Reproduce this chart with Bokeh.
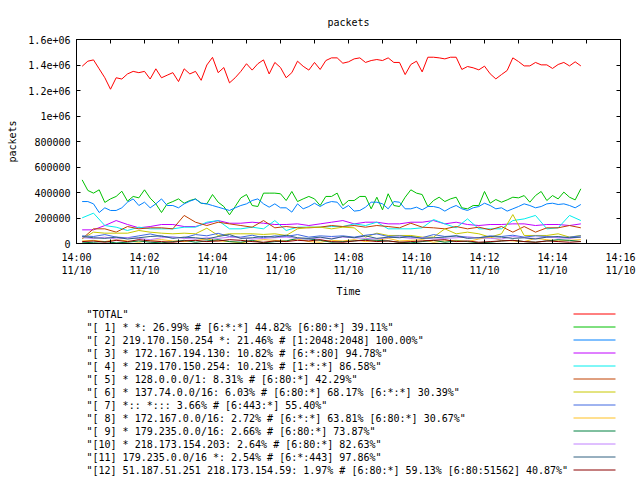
import numpy as np
import pandas as pd
from bokeh.plotting import figure
from bokeh.models import (Range1d, FixedTicker, DatetimeTickFormatter, DatetimeAxis,
                          LinearAxis)
from bokeh.layouts import column
from bokeh.embed import file_html
from bokeh.resources import INLINE
from bokeh.core.properties import value

FONT = "DejaVu Sans Mono"

# ---------------- data ----------------
x_start = "2010-11-10 14:00:00"
x_end = "2010-11-10 14:16:00"
first_sample = "2010-11-10 14:00:10"

x_major_ticks = ["2010-11-10 14:00", "2010-11-10 14:02", "2010-11-10 14:04", "2010-11-10 14:06",
                 "2010-11-10 14:08", "2010-11-10 14:10", "2010-11-10 14:12", "2010-11-10 14:14",
                 "2010-11-10 14:16"]
x_minor_ticks = ["2010-11-10 14:01", "2010-11-10 14:03", "2010-11-10 14:05", "2010-11-10 14:07",
                 "2010-11-10 14:09", "2010-11-10 14:11", "2010-11-10 14:13", "2010-11-10 14:15"]

y_tick_values = [0, 200000, 400000, 600000, 800000, 1000000, 1200000, 1400000, 1600000]
y_tick_labels = ["0", "200000", "400000", "600000", "800000", "1e+06", "1.2e+06", "1.4e+06", "1.6e+06"]

# sampled every 10 s (values in thousands of packets)
total_k = [1390, 1430, 1440, 1370, 1300, 1210, 1300, 1290, 1330, 1350,
           1340, 1350, 1290, 1370, 1300, 1320, 1340, 1270, 1370, 1330,
           1350, 1280, 1400, 1460, 1340, 1380, 1260, 1300, 1350, 1410,
           1360, 1410, 1440, 1330, 1420, 1380, 1300, 1340, 1430, 1390,
           1360, 1420, 1365,
           1435, 1456, 1456, 1414, 1425, 1448, 1456, 1420, 1435, 1443,
           1435, 1456, 1420, 1420, 1325, 1404, 1430, 1346, 1461, 1461,
           1456, 1448, 1461, 1461, 1365, 1388, 1378, 1362, 1391, 1331,
           1291, 1325, 1357, 1456, 1427, 1393, 1393, 1420, 1401, 1401,
           1373, 1404, 1420, 1393, 1425, 1393]
s1_k = [499, 416, 395, 421, 322, 350, 369, 410, 332, 369,
        358, 421, 356, 311, 243, 311, 329, 350, 316, 337,
        350, 316, 311, 384, 324, 290, 225, 290, 358, 384,
        298, 290, 395, 395, 395, 390, 337, 408, 329, 350,
        369, 350, 298,
        369, 369, 395, 298, 337, 337, 369, 369, 272, 363,
        264, 390, 298, 290, 363, 421, 395, 384, 290, 337,
        363, 329, 350, 363, 280, 272, 298, 298, 408, 316,
        345, 324, 342, 363, 358, 376, 324, 376, 408, 337,
        376, 350, 403, 363, 342, 429]
s2_k = [329, 329, 311, 243, 280, 259, 259, 280, 324, 350,
        298, 324, 280, 311, 350, 298, 298, 280, 311, 332,
        348, 316, 311, 298, 285, 272, 259, 280, 298, 311,
        337, 350, 311, 285, 311, 280, 280, 246, 311, 272,
        290, 316, 290,
        316, 329, 324, 272, 298, 254, 259, 285, 324, 324,
        311, 272, 329, 324, 272, 272, 285, 264, 290, 290,
        280, 254, 280, 298, 272, 259, 280, 290, 316, 298,
        272, 280, 254, 272, 290, 311, 298, 280, 290, 311,
        316, 306, 311, 298, 280, 306]

# sampled every 20 s (values in thousands of packets)
s3_k = [107, 107, 141, 180, 149, 123, 133, 149, 149, 133,
        133, 159, 180, 159, 159, 167, 159, 149, 149, 154,
        141, 154, 167, 180, 154, 167, 167, 154, 154, 167,
        167, 180, 154, 167, 149, 141, 149, 149, 154, 154,
        141, 149, 149, 141, 154]
s4_k = [201, 238, 141, 128, 102, 128, 115, 115, 115, 128,
        128, 167, 180, 115, 115, 128, 115, 180, 102, 128,
        128, 128, 133, 133, 154, 141, 167, 115, 115, 115,
        123, 188, 154, 123, 193, 115, 115, 115, 180, 193,
        220, 115, 123, 220, 180]
s5_k = [37, 115, 115, 89, 133, 115, 123, 123, 115, 220,
        167, 141, 167, 154, 141, 128, 180, 123, 133, 123,
        123, 128, 141, 133, 141, 128, 141, 133, 123, 159,
        128, 123, 115, 133, 115, 128, 107, 133, 89, 133,
        89, 123, 123, 141, 123]
s6_k = [37, 89, 81, 81, 81, 102, 89, 81, 76, 81,
        76, 120, 63, 76, 76, 76, 71, 76, 63, 115,
        128, 128, 115, 128, 123, 50, 81, 63, 63, 63,
        50, 50, 115, 76, 89, 76, 50, 76, 227, 63,
        63, 63, 76, 50, 63]
s7_k = [60, 55, 70, 50, 45, 60, 75, 55, 50, 45,
        70, 60, 80, 55, 50, 65, 45, 60, 55, 70,
        50, 60, 55, 60, 50, 65, 75, 55, 60, 50,
        45, 70, 55, 60, 50, 45, 60, 55, 65, 50,
        60, 55, 45, 50, 60]
s8_k = [20, 25, 15, 30, 20, 10, 25, 30, 20, 15,
        25, 35, 20, 15, 5, 20, 30, 25, 20, 35,
        15, 10, 25, 20, 30, 15, 25, 40, 20, 25,
        30, 10, 20, 25, 15, 35, 50, 25, 20, 15,
        40, 30, 20, 25, 30]
s9_k = [5, 10, 15, 5, 10, 20, 10, 5, 15, 25,
        10, 20, 30, 15, 10, 25, 5, 15, 20, 40,
        35, 25, 10, 15, 20, 30, 25, 20, 10, 5,
        15, 25, 10, 20, 15, 5, 10, 20, 25, 15,
        10, 20, 30, 25, 15]
s10_k = [45, 40, 50, 35, 45, 40, 30, 45, 50, 40,
         35, 45, 40, 50, 45, 35, 40, 45, 50, 40,
         35, 45, 40, 50, 45, 40, 35, 45, 50, 40,
         45, 35, 40, 45, 50, 45, 40, 35, 55, 45,
         40, 50, 45, 40, 50]
s11_k = [55, 45, 40, 50, 35, 45, 55, 60, 40, 50,
         45, 35, 55, 70, 40, 45, 55, 50, 65, 45,
         40, 50, 35, 55, 45, 60, 40, 50, 45, 55,
         40, 45, 50, 60, 40, 45, 55, 50, 40, 45,
         35, 50, 55, 45, 50]
s12_k = [15, 20, 10, 25, 15, 30, 20, 15, 10, 20,
         25, 15, 20, 30, 25, 15, 10, 20, 15, 25,
         20, 30, 15, 10, 20, 25, 15, 20, 10, 15,
         20, 25, 30, 15, 20, 10, 15, 20, 25, 15,
         10, 20, 15, 10, 15]

series_names = [
    '"TOTAL"',
    '"[ 1] * *: 26.99% # [6:*:*] 44.82% [6:80:*] 39.11%"',
    '"[ 2] 219.170.150.254 *: 21.46% # [1:2048:2048] 100.00%"',
    '"[ 3] * 172.167.194.130: 10.82% # [6:*:80] 94.78%"',
    '"[ 4] * 219.170.150.254: 10.21% # [1:*:*] 86.58%"',
    '"[ 5] * 128.0.0.0/1: 8.31% # [6:80:*] 42.29%"',
    '"[ 6] * 137.74.0.0/16: 6.03% # [6:80:*] 68.17% [6:*:*] 30.39%"',
    '"[ 7] *:: *::: 3.66% # [6:443:*] 55.40%"',
    '"[ 8] * 172.167.0.0/16: 2.72% # [6:*:*] 63.81% [6:80:*] 30.67%"',
    '"[ 9] * 179.235.0.0/16: 2.66% # [6:80:*] 73.87%"',
    '"[10] * 218.173.154.203: 2.64% # [6:80:*] 82.63%"',
    '"[11] 179.235.0.0/16 *: 2.54% # [6:*:443] 97.86%"',
    '"[12] 51.187.51.251 218.173.154.59: 1.97% # [6:80:*] 59.13% [6:80:51562] 40.87%"',
]
series_colors = ["#ff0000", "#00c000", "#0080ff", "#c000ff", "#00eeee", "#c04000",
                 "#c8c800", "#4169e1", "#ffc020", "#008040", "#c080ff", "#306080", "#8b0000"]
series_values_k = [total_k, s1_k, s2_k, s3_k, s4_k, s5_k, s6_k, s7_k, s8_k, s9_k,
                   s10_k, s11_k, s12_k]
series_step_s = [10, 10, 10, 20, 20, 20, 20, 20, 20, 20, 20, 20, 20]


def ms(ts):
    return int((pd.Timestamp(ts) - pd.Timestamp("1970-01-01")) // pd.Timedelta("1ms"))


# ---------------- chart ----------------
TOP_H = 305
p = figure(width=640, height=TOP_H, x_axis_type="datetime",
           x_range=Range1d(ms(x_start), ms(x_end)), y_range=Range1d(0, 1600000),
           output_backend="svg", toolbar_location=None,
           min_border_left=76, min_border_right=20, min_border_top=39,
           min_border_bottom=TOP_H - 243)

for vals, col, step in zip(series_values_k, series_colors, series_step_s):
    t = pd.date_range(first_sample, periods=len(vals), freq=f"{step}s")
    p.line(t, np.array(vals) * 1000, line_color=col, line_width=1)

bottom_axis = p.below[0]
left_axis = p.left[0]

xticker = FixedTicker(ticks=[ms(t) for t in x_major_ticks],
                      minor_ticks=[ms(t) for t in x_minor_ticks])
yticker = FixedTicker(ticks=y_tick_values)
fmt_str = "%H:%M\n%m/%d"
xfmt = DatetimeTickFormatter(seconds=fmt_str, minsec=fmt_str, minutes=fmt_str,
                             hourmin=fmt_str, hours=fmt_str, days=fmt_str)

bottom_axis.ticker = xticker
bottom_axis.formatter = xfmt
left_axis.ticker = yticker
left_axis.major_label_overrides = {v: l for v, l in zip(y_tick_values, y_tick_labels)}

# mirrored tick marks (no labels) on the top and right edges, as gnuplot draws them
top_axis = DatetimeAxis(ticker=xticker, formatter=xfmt, major_label_standoff=0,
                        major_label_overrides={ms(t): "" for t in x_major_ticks})
right_axis = LinearAxis(ticker=yticker, major_label_standoff=0,
                        major_label_overrides={v: "" for v in y_tick_values})
p.add_layout(top_axis, "above")
p.add_layout(right_axis, "right")

for ax in [bottom_axis, left_axis, top_axis, right_axis]:
    ax.major_tick_in = 4
    ax.major_tick_out = 0
    ax.minor_tick_in = 4
    ax.minor_tick_out = 0
    ax.axis_line_color = "black"
    ax.major_tick_line_color = "black"
    ax.minor_tick_line_color = "black"
    ax.major_label_text_font = FONT
    ax.major_label_text_font_size = "10px"
    ax.major_label_text_color = "black"
    ax.axis_label_text_font = FONT
    ax.axis_label_text_font_style = "normal"
    ax.axis_label_text_font_size = "10px"
    ax.axis_label_text_color = "black"

top_axis.major_label_text_font_size = "1px"
right_axis.major_label_text_font_size = "1px"

bottom_axis.major_label_standoff = 8
left_axis.major_label_standoff = 6
bottom_axis.axis_label = "Time"
bottom_axis.axis_label_standoff = 7
left_axis.axis_label = "packets"
left_axis.axis_label_standoff = 7

p.xgrid.visible = False
p.ygrid.visible = False
p.outline_line_color = "black"
p.outline_line_alpha = 1.0

p.title.text = "packets"
p.title.align = "center"
p.title.text_font = FONT
p.title.text_font_size = "10px"
p.title.text_font_style = "normal"
p.title.text_color = "black"
p.title.standoff = 24

# ---------------- legend (below), ranges in the chart's pixel coordinates ----------------
LEG_H = 480 - TOP_H
lg = figure(width=640, height=LEG_H, x_range=Range1d(76, 620), y_range=Range1d(480, TOP_H),
            output_backend="svg", toolbar_location=None, title=None,
            x_axis_location=None, y_axis_location=None,
            min_border_left=76, min_border_right=20, min_border_top=0, min_border_bottom=0)
lg.grid.visible = False
lg.outline_line_color = None

rows = [313.5 + 13 * i for i in range(len(series_names))]
lg.text(x=[86] * len(rows), y=rows, text=series_names, text_font=value(FONT),
        text_font_size="10px", text_color="black", text_baseline="middle", text_align="left")
for yy, col in zip(rows, series_colors):
    lg.segment(x0=[573], y0=[yy], x1=[615], y1=[yy], line_color=col, line_width=1)

layout = column(p, lg, spacing=0)
open("out.html", "w").write(file_html(layout, INLINE))
